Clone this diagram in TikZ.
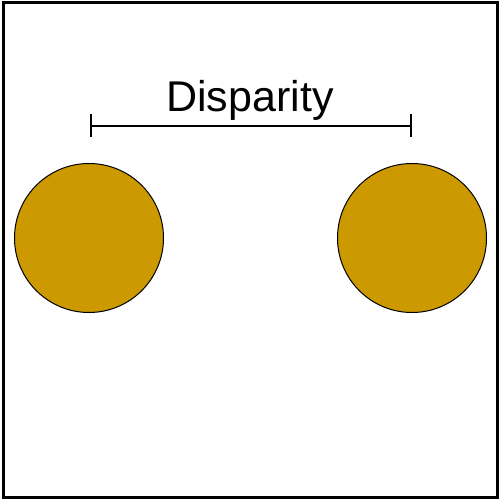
\documentclass[tikz,border=0pt]{standalone}
\usepackage{fontspec}
\setmainfont{Liberation Sans}
\definecolor{discol}{HTML}{CC9900}
\tikzset{
  disc/.style={circle, draw=black, line width=1pt, fill=discol, minimum size=149pt, inner sep=0pt},
  measure/.style={line width=1.5pt, draw=black},
  label/.style={font=\fontsize{43}{50}\selectfont, anchor=base, inner sep=0pt}
}
\begin{document}
\begin{tikzpicture}[x=1pt,y=-1pt]
\useasboundingbox (0,0) rectangle (500,500);
\draw[line width=3pt] (3,2.5) rectangle (497.5,497.5);
\node[disc] (left) at (89,238) {};
\node[disc] (right) at (412,238) {};
\coordinate (a) at (91,126);
\coordinate (b) at (411,126);
\draw[measure] (a) -- (b);
\draw[measure] ([yshift=-11pt]a) -- ([yshift=12pt]a);
\draw[measure] ([yshift=-11pt]b) -- ([yshift=12pt]b);
\node[label] (t) at (250,112) {Disparity};
\end{tikzpicture}
\end{document}
